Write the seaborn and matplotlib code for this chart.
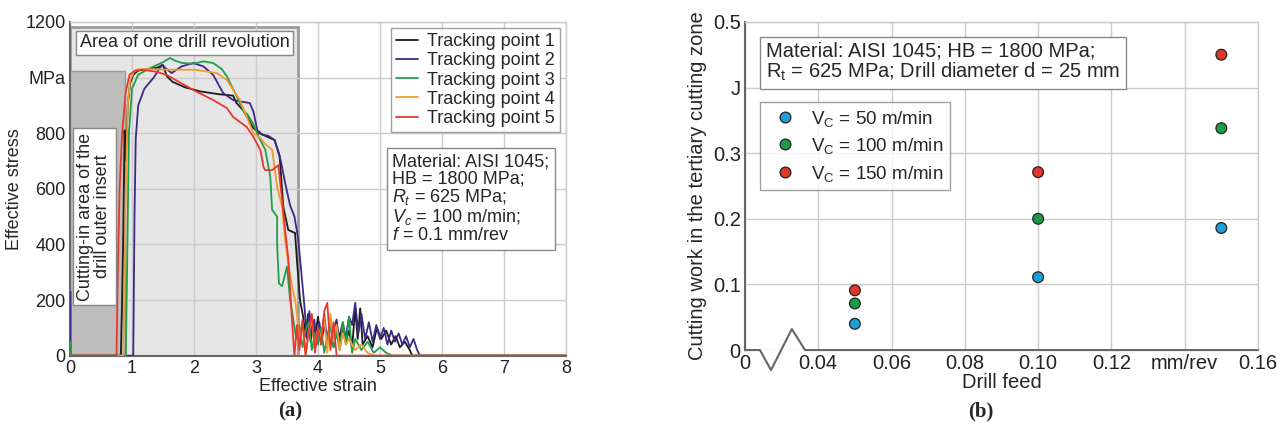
import matplotlib
matplotlib.use("Agg")
import pandas as pd
import matplotlib.pyplot as plt
import seaborn as sns
from matplotlib.patches import Rectangle

# (a) effective stress (MPa) vs effective strain
tp1_strain = [0, 0.82, 0.84, 0.86, 0.88, 0.9, 0.93, 0.97, 1.02, 1.1, 1.25, 1.4, 1.5, 1.56, 1.65, 1.85,
              2.1, 2.4, 2.63, 2.68, 2.8, 2.95, 3.05, 3.15, 3.3, 3.38, 3.44, 3.52, 3.63, 3.66, 3.71,
              3.76, 3.8, 3.84, 3.88, 3.92, 3.96, 4.0, 4.05, 4.1, 4.15, 4.2, 4.25, 4.3, 4.35, 4.4, 4.45,
              4.5, 4.55, 4.6, 4.64, 4.68, 4.72, 4.8, 4.88, 4.95, 5.02, 5.1, 5.18, 5.25, 5.32, 5.4,
              5.48, 5.52, 8.0]
tp1_stress = [0, 0, 200, 450, 810, 700, 900, 980, 1010, 1025, 1030, 1035, 1045, 1005, 985, 965,
              950, 940, 935, 910, 880, 820, 800, 790, 775, 720, 535, 452, 441, 343, 200,
              140, 70, 150, 50, 120, 80, 140, 40, 110, 60, 130, 30, 100, 70, 120, 50,
              90, 30, 170, 60, 170, 40, 70, 30, 100, 60, 90, 40, 70, 30, 50,
              20, 0, 0]

tp2_strain = [0, 0.005, 0.01, 1.02, 1.04, 1.06, 1.1, 1.2, 1.35, 1.48, 1.56, 1.64, 1.8, 1.99, 2.15,
              2.31, 2.47, 2.63, 2.9, 2.96, 3.02, 3.1, 3.2, 3.3, 3.4, 3.47, 3.55, 3.62, 3.68, 3.73,
              3.78, 3.82, 3.86, 3.9, 3.94, 3.98, 4.02, 4.06, 4.1, 4.15, 4.2, 4.25, 4.3, 4.35, 4.4,
              4.45, 4.5, 4.55, 4.6, 4.65, 4.7, 4.76, 4.82, 4.88, 4.94, 5.0, 5.06, 5.12, 5.18, 5.24,
              5.3, 5.36, 5.42, 5.48, 5.54, 5.6, 5.64, 8.0]
tp2_stress = [0, 230, 0, 0, 500, 780, 900, 960, 1000, 1045, 1030, 1016, 1040, 1052, 1040,
              1009, 944, 919, 908, 876, 811, 795, 790, 775, 700, 620, 540, 500, 420, 300,
              180, 60, 160, 80, 130, 40, 120, 70, 150, 50, 110, 90, 130, 40, 100,
              70, 140, 110, 190, 80, 150, 60, 120, 50, 110, 60, 100, 40, 90, 50,
              80, 40, 70, 30, 60, 20, 0, 0]

tp3_strain = [0, 0.005, 0.01, 0.9, 0.92, 0.95, 1.0, 1.1, 1.3, 1.5, 1.61, 1.7, 1.81, 2.0, 2.15,
              2.31, 2.45, 2.53, 2.69, 2.8, 2.86, 2.96, 3.04, 3.15, 3.23, 3.26, 3.34, 3.34, 3.37,
              3.42, 3.5, 3.55, 3.6, 3.65, 3.7, 3.75, 3.8, 3.85, 3.9, 3.95, 4.0, 4.05, 4.1, 4.15,
              4.2, 4.25, 4.3, 4.35, 4.4, 4.45, 4.5, 4.55, 4.6, 4.7, 4.8, 4.9, 5.0, 5.1, 5.2, 8.0]
tp3_stress = [0, 50, 0, 0, 300, 800, 960, 1010, 1035, 1055, 1070, 1060, 1052, 1050, 1058,
              1052, 1030, 1004, 932, 880, 868, 832, 787, 740, 643, 524, 500, 402, 260,
              250, 320, 200, 130, 60, 110, 30, 90, 120, 20, 80, 40, 100, 10, 70,
              110, 30, 80, 20, 120, 40, 140, 10, 60, 20, 50, 10, 30, 10, 0, 0]

tp4_strain = [0, 0.86, 0.88, 0.9, 0.93, 0.97, 1.03, 1.1, 1.3, 1.6, 2.0, 2.37, 2.53, 2.74, 2.85,
              2.96, 3.07, 3.15, 3.26, 3.34, 3.42, 3.47, 3.52, 3.58, 3.63,
              3.66, 3.7, 3.75, 3.8, 3.85, 3.9, 3.95, 4.0, 4.05, 4.1, 4.15, 4.2, 4.25, 4.3, 4.35,
              4.4, 4.45, 4.5, 4.6, 4.7, 4.8, 4.9, 8.0]
tp4_stress = [0, 0, 300, 600, 900, 990, 1020, 1030, 1030, 1028, 1028, 1016, 991, 919, 858,
              800, 782, 760, 740, 607, 535, 416, 332, 250, 200,
              150, 40, 120, 0, 90, 130, 20, 100, 60, 140, 10, 150, 50, 110, 20,
              80, 40, 60, 20, 40, 10, 0, 0]

tp5_strain = [0, 0.75, 0.77, 0.8, 0.84, 0.9, 0.96, 1.05, 1.18, 1.4, 1.56, 1.99, 2.31, 2.53, 2.63,
              2.85, 2.96, 3.07, 3.12, 3.15, 3.26, 3.36, 3.42, 3.47, 3.52, 3.56, 3.6,
              3.62, 3.66, 3.7, 3.75, 3.8, 3.85, 3.9, 3.95, 4.0, 4.05, 4.1, 4.15, 4.2, 4.25, 4.3, 8.0]
tp5_stress = [0, 0, 300, 600, 800, 950, 1010, 1025, 1028, 1020, 1009, 955, 919, 890, 858,
              822, 786, 739, 679, 667, 667, 685, 560, 450, 350, 200, 60,
              0, 110, 20, 130, 0, 90, 150, 10, 100, 40, 160, 190, 20, 120, 0, 0]

tp_colors = ['#1b1b1b', '#3b2a86', '#1f9e4b', '#f39a30', '#e8382d']

# (b) cutting work in the tertiary cutting zone (J) vs drill feed (mm/rev)
feed = [0.05, 0.10, 0.15]
work_vc50 = [0.040, 0.111, 0.186]
work_vc100 = [0.071, 0.200, 0.338]
work_vc150 = [0.091, 0.271, 0.450]
speed_labels = [r'V$_\mathrm{C}$ = 50 m/min', r'V$_\mathrm{C}$ = 100 m/min', r'V$_\mathrm{C}$ = 150 m/min']
speed_colors = ['#1c9ed8', '#1b9a49', '#e1362d']

sns.set_style("whitegrid")
plt.rcParams['font.family'] = ['Liberation Sans', 'DejaVu Sans']
plt.rcParams['mathtext.fontset'] = 'custom'
plt.rcParams['mathtext.rm'] = 'Liberation Sans'
plt.rcParams['mathtext.it'] = 'Liberation Sans:italic'
plt.rcParams['mathtext.bf'] = 'Liberation Sans:bold'

grid_c = '#cbcbcb'
axis_c = '#666666'
fs_a = 13      # panel (a) text size
fs_b = 14.5    # panel (b) text size

fig = plt.figure(figsize=(12.8, 4.29), dpi=100)
ax1 = fig.add_axes([0.0547, 0.171, 0.3875, 0.778])
ax2 = fig.add_axes([0.582, 0.184, 0.4008, 0.765])

# ---------- (a) ----------
ax1.add_patch(Rectangle((0, 0), 3.68, 1180, facecolor='#e6e6e6', edgecolor='#9a9a9a', lw=2, zorder=0.2))
ax1.add_patch(Rectangle((0, 0), 0.89, 1025, facecolor='#bdbdbd', edgecolor='#9a9a9a', lw=1, zorder=0.8))

curves = [(tp1_strain, tp1_stress), (tp2_strain, tp2_stress), (tp3_strain, tp3_stress),
          (tp4_strain, tp4_stress), (tp5_strain, tp5_stress)]
for i, (xs, ys) in enumerate(curves):
    sns.lineplot(x=xs, y=ys, sort=False, estimator=None, color=tp_colors[i], lw=1.3,
                 label=f'Tracking point {i + 1}', ax=ax1, zorder=2 + i)

ax1.set_xlim(0, 8)
ax1.set_ylim(0, 1200)
ax1.set_xticks(range(0, 9))
ax1.set_yticks(range(0, 1201, 200))
ax1.set_yticklabels(['0', '200', '400', '600', '800', 'MPa', '1200'])
ax1.set_xlabel('Effective strain', fontsize=fs_a, labelpad=1)
ax1.set_ylabel('Effective stress', fontsize=fs_a, labelpad=2)

ax1.text(1.85, 1125, 'Area of one drill revolution', ha='center', va='center', fontsize=fs_a, zorder=10,
         bbox=dict(boxstyle='square,pad=0.2', fc='white', ec='#888888', lw=1))
ax1.text(0.39, 500, 'Cutting-in area of the\ndrill outer insert', rotation=90, ha='center', va='center',
         fontsize=fs_a, linespacing=1.0, zorder=10,
         bbox=dict(boxstyle='square,pad=0.25', fc='white', ec='#888888', lw=1))
ax1.text(5.2, 728, 'Material: AISI 1045;\nHB = 1800 MPa;\n$R_t$ = 625 MPa;\n$V_c$ = 100 m/min;\n$f$ = 0.1 mm/rev',
         ha='left', va='top', fontsize=fs_a, linespacing=1.0, zorder=10,
         bbox=dict(boxstyle='square,pad=0.3', fc='white', ec='#888888', lw=1))

leg1 = ax1.legend(loc='upper right', bbox_to_anchor=(0.988, 0.982), borderaxespad=0, fancybox=False,
                  frameon=True, edgecolor='#888888', fontsize=fs_a, handlelength=1.2, handletextpad=0.5,
                  labelspacing=0.12, borderpad=0.3)
leg1.get_frame().set_linewidth(1)
leg1.set_zorder(20)

# ---------- (b) ----------
df = pd.DataFrame({
    'feed': feed * 3,
    'work': work_vc50 + work_vc100 + work_vc150,
    'speed': [speed_labels[0]] * 3 + [speed_labels[1]] * 3 + [speed_labels[2]] * 3,
})
sns.scatterplot(data=df, x='feed', y='work', hue='speed', hue_order=speed_labels, palette=speed_colors,
                s=60, edgecolor='#222222', linewidth=0.9, ax=ax2, zorder=5, clip_on=False)

ax2.set_xlim(0.02, 0.16)
ax2.set_ylim(0, 0.5)
ax2.set_xticks([0.02, 0.04, 0.06, 0.08, 0.10, 0.12, 0.14, 0.16])
ax2.set_xticklabels(['0', '0.04', '0.06', '0.08', '0.10', '0.12', 'mm/rev', '0.16'])
ax2.set_yticks([0, 0.1, 0.2, 0.3, 0.4, 0.5])
ax2.set_yticklabels(['0', '0.1', '0.2', '0.3', 'J', '0.5'])
ax2.set_xlabel('Drill feed', fontsize=fs_b, labelpad=0)
ax2.set_ylabel('Cutting work in the tertiary cutting zone', fontsize=fs_b, labelpad=4)

ax2.text(0.041, 0.94, 'Material: AISI 1045; HB = 1800 MPa;\nR$_\\mathrm{t}$ = 625 MPa; Drill diameter d = 25 mm',
         transform=ax2.transAxes, ha='left', va='top', fontsize=fs_b, linespacing=1.0, zorder=10,
         bbox=dict(boxstyle='square,pad=0.3', fc='white', ec='#888888', lw=1))
leg2 = ax2.legend(loc='upper left', bbox_to_anchor=(0.029, 0.756), borderaxespad=0, fancybox=False,
                  frameon=True, edgecolor='#888888', fontsize=13.5, handletextpad=0.4,
                  labelspacing=0.4, borderpad=0.35, title=None)
leg2.get_frame().set_linewidth(1)

# broken x axis between 0 and 0.04
ax2.spines['bottom'].set_visible(False)
ax2.plot([0.02, 0.0241, 0.0271, 0.0328, 0.0364, 0.16], [0, 0, -0.0305, 0.032, 0, 0],
         color=axis_c, lw=1.5, clip_on=False, zorder=6)

for ax, fs in ((ax1, fs_a), (ax2, fs_b)):
    ax.grid(True, color=grid_c, lw=1)
    ax.tick_params(length=0, pad=3, labelsize=fs, colors='#222222')
    for side in ('top', 'right'):
        ax.spines[side].set_color(grid_c)
        ax.spines[side].set_linewidth(1)
    ax.spines['left'].set_color(axis_c)
    ax.spines['left'].set_linewidth(1.5)
    ax.spines['bottom'].set_color(axis_c)
    ax.spines['bottom'].set_linewidth(1.5)

fig.text(0.227, 0.04, '(a)', ha='center', va='center', fontsize=15, fontweight='bold', family='Liberation Serif')
fig.text(0.766, 0.04, '(b)', ha='center', va='center', fontsize=15, fontweight='bold', family='Liberation Serif')

fig.savefig('out.png', dpi=100)
